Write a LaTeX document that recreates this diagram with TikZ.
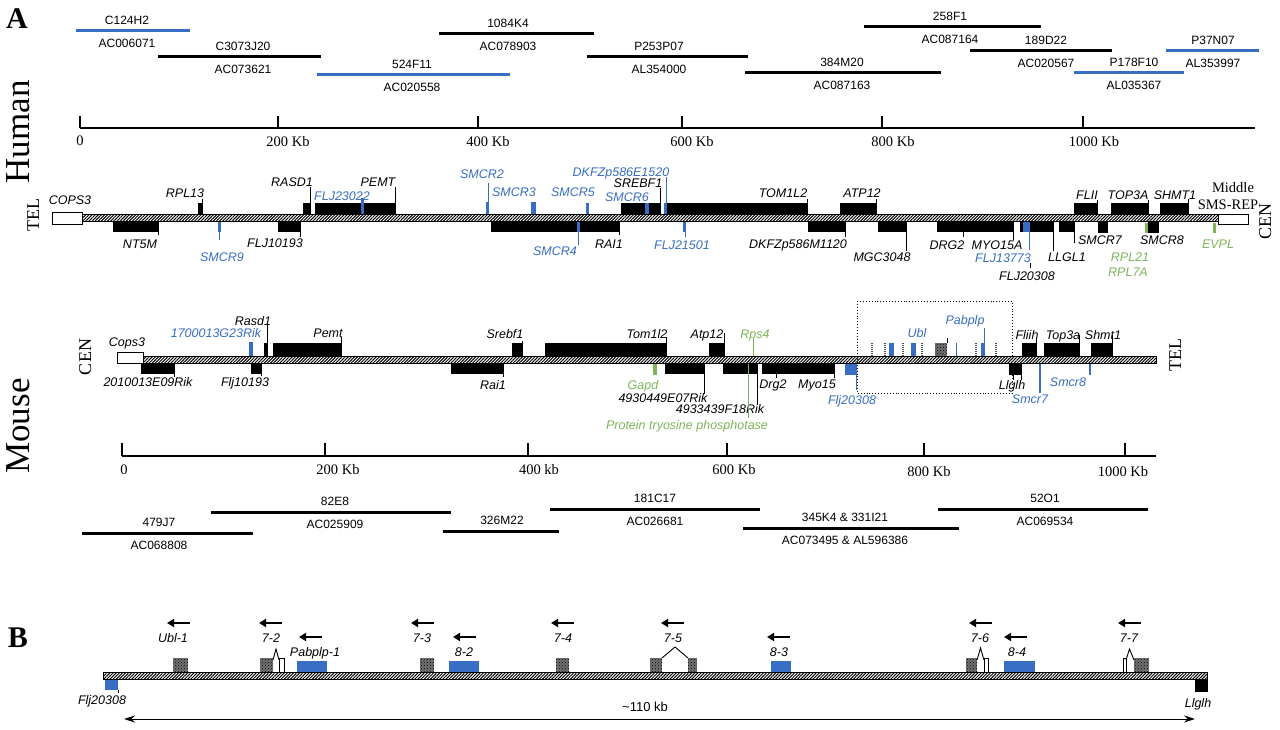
\documentclass[tikz,border=0pt]{standalone}
\usepackage{fontspec}
\setmainfont{Liberation Serif}
\setsansfont{Liberation Sans}
\usetikzlibrary{patterns,patterns.meta,arrows.meta}
\definecolor{gblue}{RGB}{55,110,195}
\definecolor{ggreen}{RGB}{125,180,90}
\newcommand\clonebar[8]{% name, color, x1, x2, y, xlabel, top, bottom
 \draw[line width=3pt,#2] (#3,#5) -- (#4,#5);
 \node[cl] (#1t) at ({#6},{#5-11}) {#7};
 \node[cl] (#1b) at ({#6},{#5+12}) {#8};}
\newcommand\hgup[3]{\fill (#1,203) rectangle (#2,215); \draw[lead] (#2,215) -- (#2,#3);}
\newcommand\hgdn[3]{\fill (#1,222) rectangle (#2,232); \draw[lead] (#2,222) -- (#2,#3);}
\newcommand\mgup[3]{\fill (#1,343) rectangle (#2,356); \draw[lead] (#2,356) -- (#2,#3);}
\newcommand\mgdn[3]{\fill (#1,363) rectangle (#2,374); \draw[lead] (#2,363) -- (#2,#3);}
\begin{document}
\begin{tikzpicture}[x=1pt,y=-1pt,
 cl/.style={font=\sffamily\fontsize{12}{14}\selectfont, inner sep=0pt, text height=8.6pt, text depth=0pt},
 gl/.style={font=\sffamily\itshape\fontsize{12.5}{14}\selectfont, inner sep=0pt, text height=9pt, text depth=0pt},
 gb/.style={gl, text=gblue},
 gg/.style={gl, text=ggreen},
 sl/.style={font=\fontsize{14.5}{16}\selectfont, inner sep=0pt, text height=9.6pt, text depth=0pt},
 big/.style={font=\fontsize{35}{37}\selectfont, inner sep=0pt, text height=23pt, text depth=0pt, rotate=90},
 side/.style={font=\fontsize{18}{20}\selectfont, inner sep=0pt, text height=12pt, text depth=0pt, rotate=90},
 panel/.style={font=\bfseries\fontsize{30}{32}\selectfont, inner sep=0pt, text height=20pt, text depth=0pt},
 lead/.style={line width=0.9pt},
 chrom/.style={draw, line width=1pt, pattern={Lines[angle=45,distance=2.2pt,line width=1pt]}},
 scl/.style={line width=1.1pt},
 gray box/.style={fill=black!55, postaction={pattern=crosshatch dots, pattern color=black}},
 barrow/.style={line width=2pt, -{Triangle[length=7pt,width=8pt]}},
 ]
\useasboundingbox[fill=white] (0,0) rectangle (1280,730);

% ---------------- Panel A labels
\node[panel] (pA) at (17,19) {A};
\node[big] (hum) at (18,132) {Human};
\node[big] (mou) at (18,426) {Mouse};

% ---------------- Human clones
\clonebar{h1}{gblue}{76}{190}{31}{127}{C124H2}{AC006071}
\clonebar{h2}{black}{158}{321}{57}{243}{C3073J20}{AC073621}
\clonebar{h3}{gblue}{317}{510}{75}{412}{524F11}{AC020558}
\clonebar{h4}{black}{439}{594}{34}{508}{1084K4}{AC078903}
\clonebar{h5}{black}{587}{748}{57}{659}{P253P07}{AL354000}
\clonebar{h6}{black}{745}{941}{73}{842}{384M20}{AC087163}
\clonebar{h7}{black}{864}{1041}{27}{950}{258F1}{AC087164}
\clonebar{h8}{black}{970}{1112}{51}{1046}{189D22}{AC020567}
\clonebar{h9}{gblue}{1074}{1184}{73}{1134}{P178F10}{AL035367}
\clonebar{h10}{gblue}{1166}{1259}{51}{1213}{P37N07}{AL353997}

% ---------------- Human scale
\draw[scl] (80,128) -- (1255,128);
\foreach \x in {80,278,478,682,882,1083} \draw[scl] (\x,116) -- (\x,128);
\node[sl] (hs0) at (80,141) {0};
\node[sl] (hs2) at (288,142) {200 Kb};
\node[sl] (hs4) at (488,142) {400 Kb};
\node[sl] (hs6) at (692,142) {600 Kb};
\node[sl] (hs8) at (893,142) {800 Kb};
\node[sl] (hs10) at (1094,142) {1000 Kb};

% ---------------- Human map
\node[side] (htel) at (33,215) {TEL};
\node[side] (hcen) at (1265,222) {CEN};
\draw[line width=0.9pt, fill=white] (52,212) rectangle (82,224);
\node[gl] (cops3) at (70,200) {COPS3};
\draw[line width=0.9pt, fill=white] (1218,214) rectangle (1248,224);
\node[sl] (midl) at (1233,188) {Middle};
\node[sl] (smsrep) at (1228,205) {SMS-REP};

% above, black
\hgup{198}{202}{199} \node[gl] (rpl13) at (185,193) {RPL13};
\hgup{303}{310}{187} \node[gl] (rasd1) at (292,182) {RASD1};
\hgup{315}{395}{187} \node[gl] (pemt) at (378,182) {PEMT};
\hgup{621}{660}{188} \node[gl] (srebf1) at (638,183) {SREBF1};
\hgup{667}{807}{199} \node[gl] (tom1l2) at (783,193) {TOM1L2};
\hgup{840}{876}{199} \node[gl] (atp12) at (862,193) {ATP12};
\hgup{1074}{1097}{200} \node[gl] (flii) at (1087,195) {FLII};
\hgup{1111}{1148}{200} \node[gl] (top3a) at (1128,195) {TOP3A};
\hgup{1160}{1188}{199} \node[gl] (shmt1) at (1175,195) {SHMT1};
% above, blue
\fill[gblue] (361,198) rectangle (363.5,215); \node[gb] (flj23022) at (342,196) {FLJ23022};
\fill[gblue] (486,202) rectangle (489,215); \draw[lead,gblue] (488.5,202) -- (488.5,183); \node[gb] (smcr2) at (482,174) {SMCR2};
\fill[gblue] (531,202) rectangle (536,215); \node[gb] (smcr3) at (514,192) {SMCR3};
\fill[gblue] (586,203) rectangle (589,215); \node[gb] (smcr5) at (573,192) {SMCR5};
\fill[gblue] (645,203) rectangle (649,215); \node[gb] (smcr6) at (627,197) {SMCR6};
\fill[gblue] (664,203) rectangle (667,215); \draw[lead,gblue] (666.5,203) -- (666.5,177); \node[gb] (dkfze) at (621,172) {DKFZp586E1520};

% below, black
\hgdn{113}{158}{235} \node[gl] (nt5m) at (140,244) {NT5M};
\hgdn{278}{300}{237} \node[gl] (flj10193) at (275,243) {FLJ10193};
\hgdn{491}{619}{235} \node[gl] (rai1) at (609,244) {RAI1};
\hgdn{808}{845}{237} \node[gl] (dkfzm) at (798,244) {DKFZp586M1120};
\hgdn{878}{906}{251} \node[gl] (mgc3048) at (882,257) {MGC3048};
\hgdn{937}{963}{237} \node[gl] (drg2) at (947,245) {DRG2};
\hgdn{963}{1013}{240} \node[gl] (myo15a) at (997,245) {MYO15A};
\hgdn{1020}{1053}{251} \node[gl] (llgl1) at (1067,257) {LLGL1};
\draw[lead] (1030,263) -- (1030,268); \node[gl] (flj20308) at (1027,276) {FLJ20308};
\hgdn{1059}{1074}{243} \node[gl] (smcr7) at (1100,240) {SMCR7};
\fill (1098,222) rectangle (1108,233);
\fill (1148,222) rectangle (1159,233); \node[gl] (smcr8) at (1162,240) {SMCR8};
% below, blue
\fill[gblue] (218,222) rectangle (220.5,232); \draw[lead,gblue] (219.3,222) -- (219.3,240); \node[gb] (smcr9) at (222,257) {SMCR9};
\fill[gblue] (577,222) rectangle (580,232); \draw[lead,gblue] (578.5,222) -- (578.5,245); \node[gb] (smcr4) at (555,251) {SMCR4};
\fill[gblue] (683,222) rectangle (686,232); \draw[lead,gblue] (685,222) -- (685,237); \node[gb] (flj21501) at (682,245) {FLJ21501};
\fill[gblue] (1023,222) rectangle (1030,232); \draw[lead,gblue] (1029,222) -- (1029,250); \node[gb] (flj13773) at (1003,258) {FLJ13773};
% below, green
\fill[ggreen] (1145,223) rectangle (1147.5,233); \node[gg] (rpl21) at (1130,257) {RPL21}; \node[gg] (rpl7a) at (1128,272) {RPL7A};
\fill[ggreen] (1213,223) rectangle (1215.5,233); \node[gg] (evpl) at (1218,244) {EVPL};
% chromosome
\draw[chrom] (82,215) rectangle (1218,222);

% ---------------- Mouse map
\node[side] (mcen) at (85,357) {CEN};
\node[side] (mtel) at (1175,355) {TEL};
\draw[line width=0.9pt, fill=white] (117,352) rectangle (143,363);
\node[gl] (mcops3) at (127,342) {Cops3};
\draw[dotted, line width=0.9pt] (857,301) rectangle (1012,393);
% above black
\mgup{264}{267}{323} \node[gl] (mrasd1) at (253,321) {Rasd1};
\mgup{273}{341}{337} \node[gl] (mpemt) at (328,333) {Pemt};
\mgup{512}{522}{341} \node[gl] (msrebf1) at (505,334) {Srebf1};
\mgup{545}{666}{337} \node[gl] (mtom1l2) at (647,334) {Tom1l2};
\mgup{709}{724}{333} \node[gl] (matp12) at (707,334) {Atp12};
\mgup{1022}{1036}{338} \node[gl] (mfliih) at (1027,335) {Fliih};
\mgup{1044}{1079}{335} \node[gl] (mtop3a) at (1063,335) {Top3a};
\mgup{1091}{1112}{335} \node[gl] (mshmt1) at (1103,335) {Shmt1};
% above blue / markers
\fill[gblue] (249,342) rectangle (253,356); \node[gb] (rik17) at (216,333) {1700013G23Rik};
\fill[gblue] (889,343) rectangle (894,356);
\fill[gblue] (911,343) rectangle (916,356); \node[gb] (mubl) at (917,333) {Ubl};
\fill[gblue] (981,343) rectangle (985,356); \draw[lead,gblue] (984.5,343) -- (984.5,328); \node[gb] (mpab) at (965,320) {Pabplp};
\draw[lead,gblue] (956,343) -- (956,356);
\foreach \x in {872,885,903,922,976,996} \draw[line width=1.4pt, black!70, dash pattern=on 1pt off 1pt] (\x,343) -- (\x,356);
\fill[gray box] (935,343) rectangle (947,356); \draw[lead] (947,343) -- (947,338);
\draw[lead,ggreen] (753,338) -- (753,356); \node[gg] (rps4) at (755,334) {Rps4};
% below black
\mgdn{141}{174}{377} \node[gl] (rik20) at (148,382) {2010013E09Rik};
\mgdn{251}{261}{376} \node[gl] (mflj10193) at (245,382) {Flj10193};
\mgdn{451}{503}{377} \node[gl] (mrai1) at (493,385) {Rai1};
\mgdn{665}{704}{394} \node[gl] (rik49a) at (663,398) {4930449E07Rik};
\mgdn{723}{757}{404} \node[gl] (rik49b) at (720,409) {4933439F18Rik};
\mgdn{762}{776}{378} \node[gl] (mdrg2) at (773,384) {Drg2};
\mgdn{777}{834}{378} \node[gl] (mmyo15) at (817,384) {Myo15};
\fill (1009,363) rectangle (1022,375); \draw[lead] (1013,375) -- (1013,380); \draw[lead] (1021,375) -- (1021,380);
\node[gl] (mllglh) at (1012,385) {Llglh};
% below blue
\fill[gblue] (845,363) rectangle (857,375); \draw[lead,gblue] (856.5,375) -- (856.5,390); \node[gb] (mflj20308) at (852,400) {Flj20308};
\draw[line width=1.5pt,gblue] (1040,363) -- (1040,393); \node[gb] (msmcr7) at (1030,399) {Smcr7};
\draw[line width=1.5pt,gblue] (1090,363) -- (1090,375); \node[gb] (msmcr8) at (1068,382) {Smcr8};
% below green
\fill[ggreen] (653,363) rectangle (656.5,375); \node[gg] (mgapd) at (643,385) {Gapd};
\draw[lead,ggreen] (748,363) -- (748,418); \node[gg] (mptp) at (687,425) {Protein tryosine phosphotase};
% chromosome
\draw[chrom] (143,356) rectangle (1156,363);

% ---------------- Mouse scale
\draw[scl] (122,456) -- (1156,456);
\foreach \x in {122,325,528,727,924,1125} \draw[scl] (\x,443) -- (\x,456);
\node[sl] (ms0) at (124,470) {0};
\node[sl] (ms2) at (338,470) {200 Kb};
\node[sl] (ms4) at (539,470) {400 kb};
\node[sl] (ms6) at (734,470) {600 Kb};
\node[sl] (ms8) at (929,472) {800 Kb};
\node[sl] (ms10) at (1123,472) {1000 Kb};

% ---------------- Mouse clones
\clonebar{m1}{black}{82}{253}{533}{159}{479J7}{AC068808}
\clonebar{m2}{black}{211}{451}{512}{335}{82E8}{AC025909}
\draw[line width=3pt] (443,531) -- (559,531); \node[cl] (m3t) at (502,520) {326M22};
\clonebar{m4}{black}{550}{760}{509}{655}{181C17}{AC026681}
\clonebar{m5}{black}{743}{959}{528}{845}{345K4 \& 331I21}{AC073495 \& AL596386}
\clonebar{m6}{black}{938}{1148}{509}{1045}{52O1}{AC069534}

% ---------------- Panel B
\node[panel] (pB) at (18,637) {B};
\fill[gblue] (105,679) rectangle (118,690); \draw[lead] (118,690) -- (118,693);
\node[gl] (bflj) at (102,700) {Flj20308};
\fill (1195,679) rectangle (1208,692);
\node[gl] (bllglh) at (1198,703) {Llglh};
% Ubl-1
\draw[barrow] (190,623) -- (167,623); \node[gl] (ubl1) at (173,638) {Ubl-1};
\fill[gray box] (173,658) rectangle (188,672);
% 7-2
\draw[barrow] (282,623) -- (259,623); \node[gl] (s72) at (271,638) {7-2};
\fill[gray box] (260,658) rectangle (273,672);
\draw[lead] (273,660) -- (276,649) -- (279,660);
\draw[line width=0.7pt, fill=white] (279,658) rectangle (284,672);
% Pabplp-1
\draw[barrow] (322,637) -- (299,637); \node[gl] (pab1) at (315,652) {Pabplp-1};
\fill[gblue] (297,661) rectangle (327,672);
% 7-3
\draw[barrow] (434,623) -- (411,623); \node[gl] (s73) at (422,638) {7-3};
\fill[gray box] (420,658) rectangle (434,672);
% 8-2
\draw[barrow] (476,637) -- (453,637); \node[gl] (s82) at (464,652) {8-2};
\fill[gblue] (449,661) rectangle (479,672);
% 7-4
\draw[barrow] (574,623) -- (551,623); \node[gl] (s74) at (563,638) {7-4};
\fill[gray box] (556,658) rectangle (569,672);
% 7-5
\draw[barrow] (684,623) -- (661,623); \node[gl] (s75) at (673,638) {7-5};
\fill[gray box] (650,658) rectangle (662,672);
\draw[lead] (662,658) -- (675,647) -- (688,658);
\fill[gray box] (688,658) rectangle (697,672);
% 8-3
\draw[barrow] (790,637) -- (767,637); \node[gl] (s83) at (779,652) {8-3};
\fill[gblue] (771,661) rectangle (791,672);
% 7-6
\draw[barrow] (992,623) -- (969,623); \node[gl] (s76) at (980,638) {7-6};
\fill[gray box] (966,658) rectangle (977,672);
\draw[lead] (977,660) -- (980.5,648) -- (984,660);
\draw[line width=0.7pt, fill=white] (984,658) rectangle (988,672);
% 8-4
\draw[barrow] (1027,637) -- (1004,637); \node[gl] (s84) at (1017,652) {8-4};
\fill[gblue] (1004,661) rectangle (1035,672);
% 7-7
\draw[barrow] (1141,623) -- (1118,623); \node[gl] (s77) at (1129,638) {7-7};
\draw[line width=0.7pt, fill=white] (1123,658) rectangle (1126,672);
\draw[lead] (1126,660) -- (1129.5,649) -- (1134,660);
\fill[gray box] (1134,658) rectangle (1149,672);
% chromosome B
\draw[chrom] (103,672) rectangle (1207,679);
% span arrow
\coordinate (spanL) at (124,719);
\coordinate (spanR) at (1195,719);
\draw[line width=1pt, {Stealth[length=11pt,width=7pt]}-{Stealth[length=11pt,width=7pt]}] (spanL) -- (spanR);
\node[cl, font=\sffamily\fontsize{13}{14}\selectfont] (span) at (645,707) {\textasciitilde110 kb};
\end{tikzpicture}
\end{document}
